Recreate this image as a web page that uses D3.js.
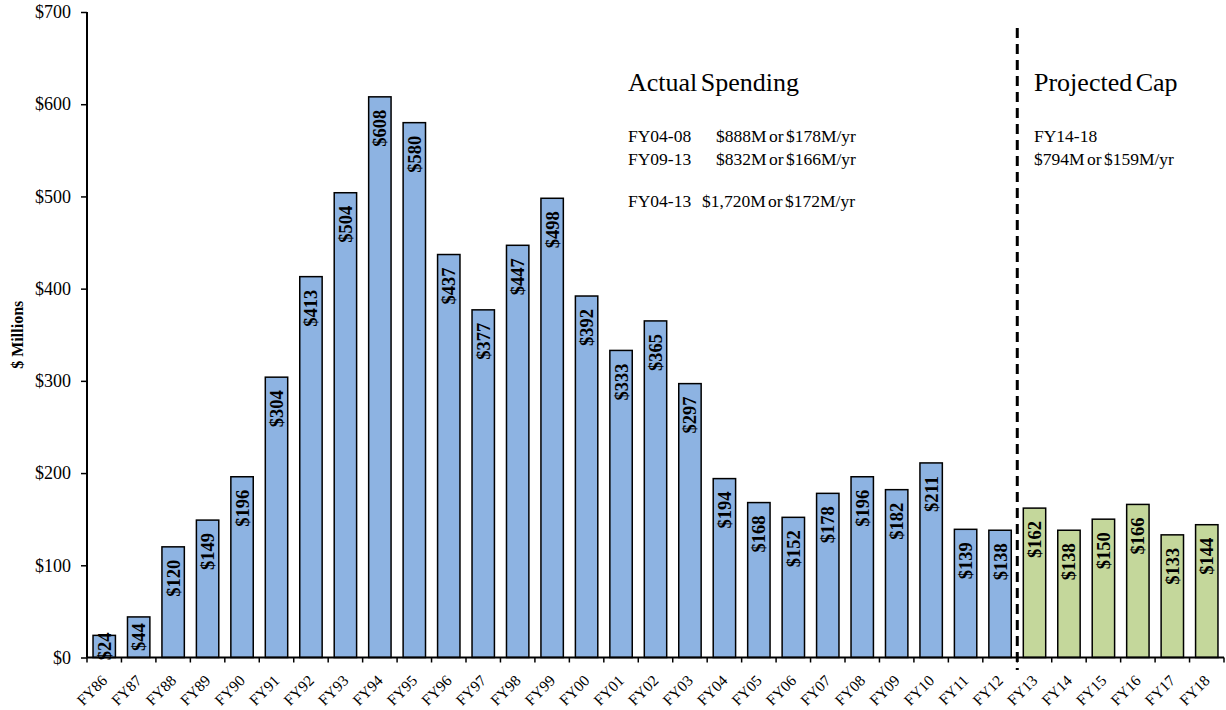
<!DOCTYPE html>
<meta charset="utf-8">
<style>
    body { margin: 0; background: #fff; }
    text { font-family: "Liberation Serif", "Times New Roman", serif; }
</style>
<script src="https://d3js.org/d3.v7.min.js"></script>
<svg id="chart" width="1226" height="710"></svg>
<script>
    // data
    var actualYears = ["FY86","FY87","FY88","FY89","FY90","FY91","FY92","FY93","FY94","FY95",
        "FY96","FY97","FY98","FY99","FY00","FY01","FY02","FY03","FY04","FY05",
        "FY06","FY07","FY08","FY09","FY10","FY11","FY12"];
    var actualValues = [24,44,120,149,196,304,413,504,608,580,
        437,377,447,498,392,333,365,297,194,168,
        152,178,196,182,211,139,138];
    var projectedYears = ["FY13","FY14","FY15","FY16","FY17","FY18"];
    var projectedValues = [162,138,150,166,133,144];
    var yTicks = [0,100,200,300,400,500,600,700];

    var actualNotes = [
        ["FY04-08", "$888M or $178M/yr"],
        ["FY09-13", "$832M or $166M/yr"]
    ];
    var actualTotal = ["FY04-13", "$1,720M or $172M/yr"];
    var projectedNotes = ["FY14-18", "$794M or $159M/yr"];

    var data = actualYears.map(function(y, i) { return {year: y, value: actualValues[i], kind: "actual"}; })
        .concat(projectedYears.map(function(y, i) { return {year: y, value: projectedValues[i], kind: "proj"}; }));

    var svg = d3.select("#chart");
    var plotLeft = 87, plotRight = 1224, plotTop = 12, plotBottom = 657.5;

    var x = d3.scaleBand()
        .domain(data.map(function(d) { return d.year; }))
        .range([plotLeft, plotRight])
        .paddingInner(0.35)
        .paddingOuter(0.175);

    var y = d3.scaleLinear().domain([0, 700]).range([plotBottom, plotTop]);

    // bars
    svg.append("g")
        .selectAll("rect")
        .data(data)
        .enter().append("rect")
        .attr("x", function(d) { return x(d.year); })
        .attr("width", x.bandwidth())
        .attr("y", function(d) { return y(d.value); })
        .attr("height", function(d) { return y(0) - y(d.value); })
        .style("fill", function(d) { return d.kind === "actual" ? "#8db3e2" : "#c4d79b"; })
        .style("stroke", "#000")
        .style("stroke-width", 1.5);

    // value labels, inside end; centred when the bar is too short
    svg.append("g")
        .selectAll("text")
        .data(data)
        .enter().append("text")
        .attr("text-anchor", "end")
        .style("font-size", "18.5px")
        .style("font-weight", "bold")
        .text(function(d) { return "$" + d.value; })
        .attr("transform", function(d) {
            var len = this.getComputedTextLength();
            var h = y(0) - y(d.value);
            var off = Math.min(13, (h - len) / 2);
            return "translate(" + (x(d.year) + x.bandwidth() / 2 + 6.5) + "," + (y(d.value) + off) + ") rotate(-90)";
        });

    // y axis
    var yAxis = svg.append("g")
        .attr("transform", "translate(" + plotLeft + ",0)")
        .call(d3.axisLeft(y).tickValues(yTicks).tickSize(6).tickPadding(10)
            .tickFormat(function(d) { return "$" + d; }));
    yAxis.select(".domain").attr("stroke-width", 2).attr("d", "M0," + plotTop + "V" + plotBottom);
    yAxis.selectAll(".tick line").attr("stroke-width", 1.5);
    yAxis.selectAll("text")
        .style("font-size", "18px")
        .style("font-family", "Liberation Serif")
        .style("font-weight", "normal")
        .attr("fill", "#000");

    // x axis with ticks on category boundaries
    var xAxis = svg.append("g").attr("transform", "translate(0," + plotBottom + ")");
    xAxis.append("line")
        .attr("x1", plotLeft).attr("x2", plotRight)
        .attr("stroke", "#000").attr("stroke-width", 2);
    var step = x.step();
    var bounds = data.map(function(d) { return x(d.year) - step * 0.175; }).concat([plotRight]);
    xAxis.selectAll(".tk")
        .data(bounds)
        .enter().append("line")
        .attr("x1", function(d) { return d; }).attr("x2", function(d) { return d; })
        .attr("y1", 0).attr("y2", 5)
        .attr("stroke", "#000").attr("stroke-width", 1.5);
    xAxis.selectAll(".lbl")
        .data(data)
        .enter().append("text")
        .attr("transform", function(d) {
            return "translate(" + (x(d.year) + x.bandwidth() / 2 + 4) + ",24) rotate(-45)";
        })
        .attr("text-anchor", "end")
        .style("font-size", "15.5px")
        .text(function(d) { return d.year; });

    // y label
    svg.append("text")
        .attr("transform", "translate(23," + ((plotTop + plotBottom) / 2) + ") rotate(-90)")
        .attr("text-anchor", "middle")
        .style("font-size", "16px")
        .style("font-weight", "bold")
        .text("$ Millions");

    // divider
    var divX = x("FY13") - step * 0.175;
    svg.append("line")
        .attr("x1", divX).attr("x2", divX)
        .attr("y1", 28).attr("y2", 670)
        .attr("stroke", "#000").attr("stroke-width", 3)
        .attr("stroke-dasharray", "10,6");

    // annotations
    svg.append("text").attr("x", 628).attr("y", 91)
        .style("font-size", "26px").style("word-spacing", "-3px").text("Actual Spending");
    actualNotes.forEach(function(n, i) {
        svg.append("text").attr("x", 628).attr("y", 142 + i * 23.3)
            .style("font-size", "17.5px").text(n[0]);
        svg.append("text").attr("x", 716).attr("y", 142 + i * 23.3)
            .style("font-size", "17.5px").style("word-spacing", "-2px").text(n[1]);
    });
    svg.append("text").attr("x", 628).attr("y", 206.5)
        .style("font-size", "17.5px").text(actualTotal[0]);
    svg.append("text").attr("x", 702).attr("y", 206.5)
        .style("font-size", "17.5px").style("word-spacing", "-2px").text(actualTotal[1]);

    svg.append("text").attr("x", 1034).attr("y", 91)
        .style("font-size", "26px").style("word-spacing", "-3px").text("Projected Cap");
    projectedNotes.forEach(function(n, i) {
        svg.append("text").attr("x", 1034).attr("y", 142 + i * 23.3)
            .style("font-size", "17.5px").style("word-spacing", "-2px").text(n);
    });
</script>
